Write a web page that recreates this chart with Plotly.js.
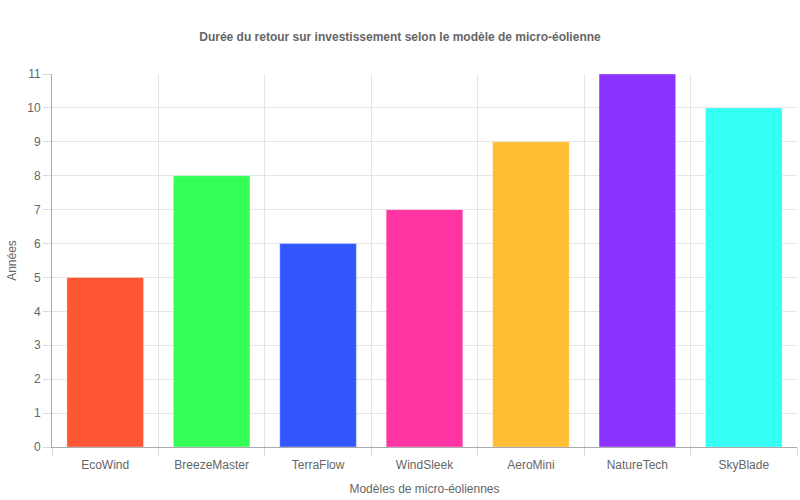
<!DOCTYPE html>
<html>
<head>
<meta charset="utf-8">
<script src="https://cdn.plot.ly/plotly-3.0.1.min.js"></script>
<style>
  html, body { margin: 0; padding: 0; background: #ffffff; }
  #chart { width: 800px; height: 500px; }
</style>
</head>
<body>
<div id="chart"></div>
<script>
// Retour sur investissement par modèle de micro-éolienne
const models = ['EcoWind', 'BreezeMaster', 'TerraFlow', 'WindSleek', 'AeroMini', 'NatureTech', 'SkyBlade'];
const years = [5, 8, 6, 7, 9, 11, 10];
const colors = ['#FF5733', '#33FF57', '#3357FF', '#FF33A1', '#FFBD33', '#8D33FF', '#33FFF5'];

const font = 'Liberation Sans, Arial, sans-serif';

const trace = {
  type: 'bar',
  x: models,
  y: years,
  marker: {
    color: colors,
    line: { color: 'rgba(255,255,255,0.35)', width: 1 }
  },
  hoverinfo: 'x+y'
};

const layout = {
  width: 800,
  height: 500,
  paper_bgcolor: '#ffffff',
  plot_bgcolor: '#ffffff',
  margin: { l: 52, r: 3, t: 74, b: 53 },
  bargap: 0.28,
  showlegend: false,
  font: { family: font, color: '#666666', size: 12 },
  title: {
    text: '<b>Durée du retour sur investissement selon le modèle de micro-éolienne</b>',
    font: { family: font, size: 12, color: '#666666' },
    x: 0.5,
    xanchor: 'center',
    y: 0.926,
    yanchor: 'middle'
  },
  xaxis: {
    type: 'category',
    tickson: 'boundaries',
    ticks: 'outside',
    ticklen: 8,
    tickcolor: '#d9d9d9',
    ticklabelstandoff: 7,
    showgrid: true,
    gridcolor: '#e5e5e5',
    showline: true,
    linecolor: '#aaaaaa',
    linewidth: 1,
    tickfont: { family: font, size: 12, color: '#666666' },
    title: {
      text: 'Modèles de micro-éoliennes',
      font: { family: font, size: 12, color: '#666666' },
      standoff: 13
    }
  },
  yaxis: {
    range: [0, 11],
    dtick: 1,
    ticks: 'outside',
    ticklen: 8,
    tickcolor: '#d9d9d9',
    showgrid: true,
    gridcolor: '#e5e5e5',
    zeroline: false,
    showline: true,
    linecolor: '#aaaaaa',
    linewidth: 1,
    tickfont: { family: font, size: 12, color: '#666666' },
    title: {
      text: 'Années',
      font: { family: font, size: 12, color: '#666666' },
      standoff: 8
    }
  }
};

Plotly.newPlot('chart', [trace], layout, { displayModeBar: false, responsive: false });
</script>
</body>
</html>
